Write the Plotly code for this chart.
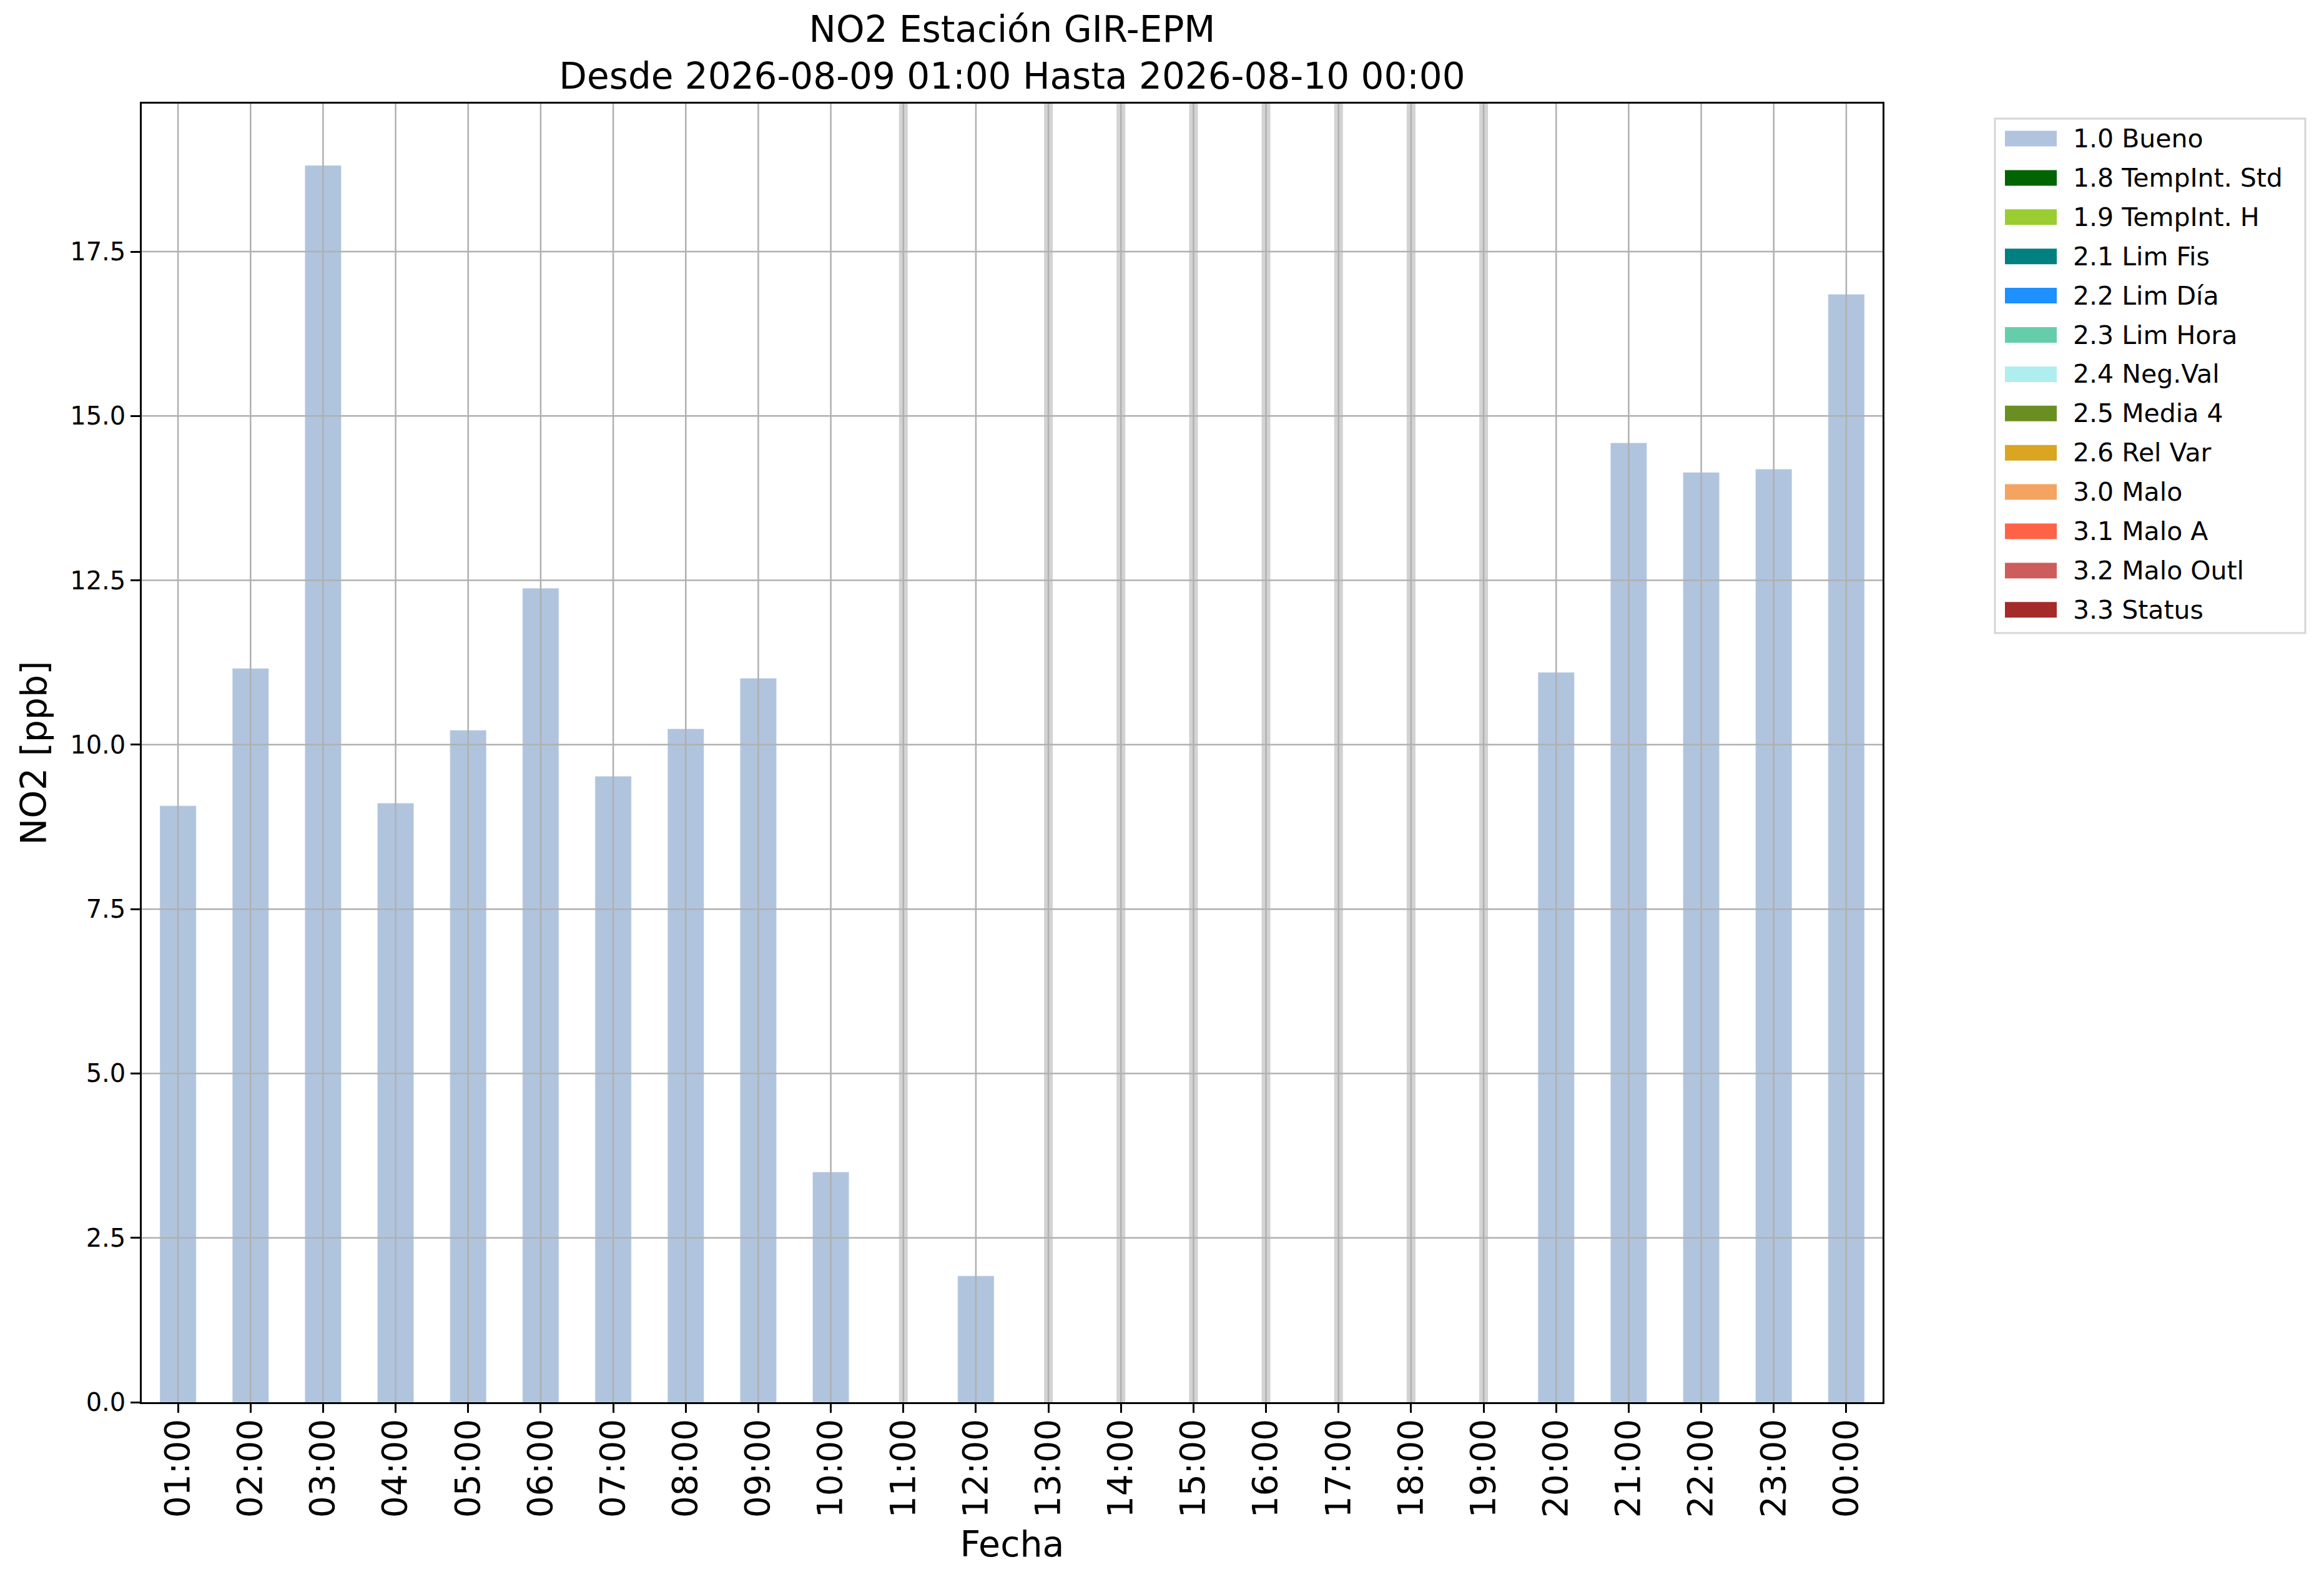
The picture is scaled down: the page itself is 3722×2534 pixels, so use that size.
import plotly.graph_objects as go

horas = ["01:00", "02:00", "03:00", "04:00", "05:00", "06:00", "07:00", "08:00",
         "09:00", "10:00", "11:00", "12:00", "13:00", "14:00", "15:00", "16:00",
         "17:00", "18:00", "19:00", "20:00", "21:00", "22:00", "23:00", "00:00"]
no2 = [9.07, 11.16, 18.81, 9.11, 10.22, 12.38, 9.52, 10.24,
       11.01, 3.50, None, 1.92, None, None, None, None,
       None, None, None, 11.10, 14.59, 14.14, 14.19, 16.85]
banderas = ["1.0 Bueno"] * len(horas)

etiquetas = ["1.0 Bueno", "1.8 TempInt. Std", "1.9 TempInt. H", "2.1 Lim Fis",
             "2.2 Lim Día", "2.3 Lim Hora", "2.4 Neg.Val", "2.5 Media 4",
             "2.6 Rel Var", "3.0 Malo", "3.1 Malo A", "3.2 Malo Outl", "3.3 Status"]
colores = ["lightsteelblue", "darkgreen", "yellowgreen", "teal", "dodgerblue",
           "mediumaquamarine", "paleturquoise", "olivedrab", "goldenrod",
           "sandybrown", "tomato", "indianred", "brown"]

yticks = [0, 2.5, 5, 7.5, 10, 12.5, 15, 17.5]
ymax = max(v for v in no2 if v is not None) * 1.05

W, H = 3722, 2534
L, R, T, B = 219, 715, 158, 296   # margenes (la pagina tiene 8px de borde)
pw = W - L - R
ph = H - T - B


def px(X):
    return (X - 8 - L) / pw


def py(Y):
    return (H - B + 8 - Y) / ph


fig = go.Figure()

# barras por bandera de calidad
for lab, col in zip(etiquetas, colores):
    ys = [v if b == lab else None for v, b in zip(no2, banderas)]
    fig.add_trace(go.Bar(x=horas, y=ys, marker_color=col, width=0.5,
                         name=lab, showlegend=False))

shapes = []
annotations = []
# horas sin dato: franja gris
for h, v in zip(horas, no2):
    if v is None:
        shapes.append(dict(type="line", xref="x", yref="paper", x0=h, x1=h, y0=0, y1=1,
                           line=dict(color="#d3d3d3", width=14), layer="below"))
# rejilla por encima de las barras
for h in horas:
    shapes.append(dict(type="line", xref="x", yref="paper", x0=h, x1=h, y0=0, y1=1,
                       line=dict(color="#b0b0b0", width=2.5), layer="above"))
for t in yticks[1:]:
    shapes.append(dict(type="line", xref="paper", yref="y", x0=0, x1=1, y0=t, y1=t,
                       line=dict(color="#b0b0b0", width=2.5), layer="above"))

# leyenda (estilo matplotlib)
shapes.append(dict(type="rect", xref="paper", yref="paper",
                   x0=px(3195), x1=px(3692), y0=py(190), y1=py(1014),
                   line=dict(color="#d6d6d6", width=3), fillcolor="white", layer="above"))
for i, (lab, col) in enumerate(zip(etiquetas, colores)):
    yc = 222 + 62.9 * i
    shapes.append(dict(type="rect", xref="paper", yref="paper",
                       x0=px(3211), x1=px(3294), y0=py(yc - 12.5), y1=py(yc + 12.5),
                       line=dict(width=0), fillcolor=col, layer="above"))
    annotations.append(dict(text=lab, xref="paper", yref="paper", x=px(3318), y=py(yc),
                            xanchor="left", yanchor="middle", showarrow=False,
                            font=dict(size=41)))

fig.update_layout(
    width=W, height=H,
    margin=dict(l=L, r=R, t=T, b=B),
    paper_bgcolor="white", plot_bgcolor="white",
    font=dict(family="DejaVu Sans", color="black", size=40),
    title=dict(text="NO2 Estación GIR-EPM<br>Desde 2026-08-09 01:00 Hasta 2026-08-10 00:00",
               x=px(1621), xref="paper", xanchor="center",
               y=1 - (67 - 8) / H, yref="container", yanchor="middle",
               font=dict(size=58)),
    xaxis=dict(title=dict(text="Fecha", font=dict(size=57), standoff=23),
               type="category", range=[-0.5, len(horas) - 0.5],
               tickangle=-90, tickfont=dict(size=55), ticklabelstandoff=-12,
               showgrid=False, ticks="outside", ticklen=14, tickwidth=2.5, tickcolor="black",
               showline=True, linecolor="black", linewidth=2.5, mirror=True),
    yaxis=dict(title=dict(text="NO2 [ppb]", font=dict(size=57), standoff=20),
               range=[0, ymax], tickvals=yticks, tickformat=".1f",
               tickfont=dict(size=40), showgrid=False, zeroline=False,
               ticks="outside", ticklen=15, tickwidth=2.5, tickcolor="black",
               showline=True, linecolor="black", linewidth=2.5, mirror=True),
    showlegend=False,
    shapes=shapes,
    annotations=annotations,
    barmode="overlay",
)

fig.write_html("out.html")
